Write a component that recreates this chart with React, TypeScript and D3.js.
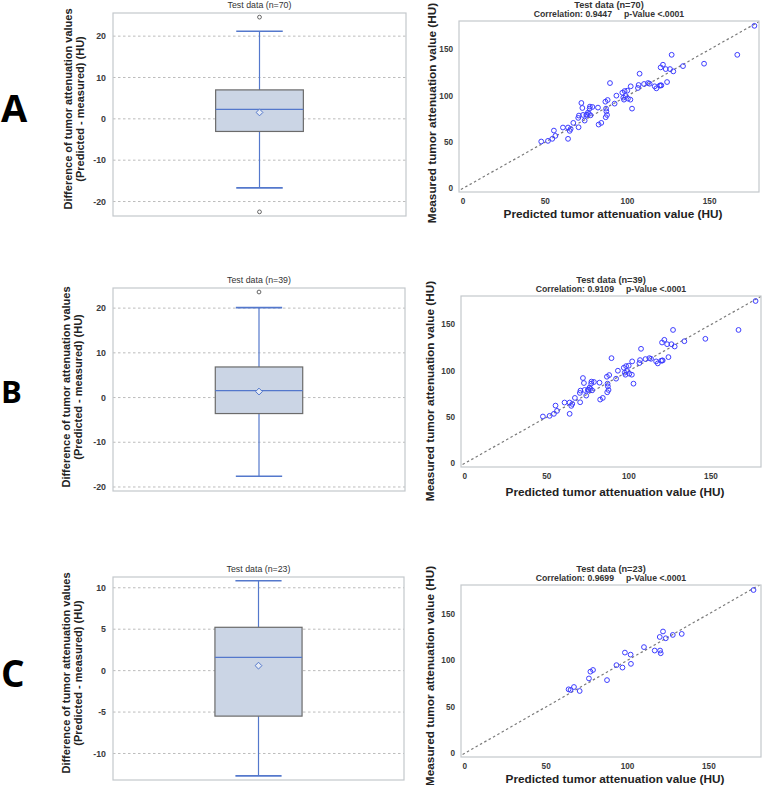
import React from "react";
import * as d3 from "d3";

const W = 763;
const H = 785;

// box summaries: [lower whisker, Q1, median, Q3, upper whisker]
const boxA = [-16.7, -3.05, 2.27, 7.0, 21.2];
const meanA = 1.55;
const outliersA = [24.6, -22.5];

const boxB = [-17.6, -3.58, 1.56, 6.84, 20.1];
const meanB = 1.34;
const outliersB = [23.6];

const boxC = [-12.7, -5.49, 1.61, 5.23, 10.84];
const meanC = 0.6;
const outliersC: number[] = [];

const diffTicksAB = [-20, -10, 0, 10, 20];
const diffTicksC = [-10, -5, 0, 5, 10];
const huTicks = [0, 50, 100, 150];

const nTest = [70, 39, 23];
const corrTest = ["0.9447", "0.9109", "0.9699"];
const panelLetters = ["A", "B", "C"];

// predicted vs measured attenuation (HU)
const predAB = [
  47.6, 51.7, 54.3, 55.3, 56.2, 60.8, 63.9, 63.9, 64.9, 65.5, 67.1, 70.3, 70.1, 70.5,
  72.0, 72.6, 73.0, 74.0, 75.0, 76.0, 76.6, 77.0, 77.2, 77.6, 78.7, 82.1, 82.5, 84.1,
  86.6, 86.8, 87.0, 87.2, 87.6, 88.0, 89.4, 92.2, 93.3, 96.9, 97.5, 97.9, 98.3, 98.9,
  99.9, 100.3, 101.8, 102.0, 102.8, 106.4, 106.8, 107.4, 110.1, 112.5, 113.5, 116.6,
  117.6, 119.6, 120.2, 120.6, 121.6, 123.3, 124.1, 125.9, 126.9, 127.9, 133.8, 146.6,
  166.8, 177.2, 75.4, 120.2,
];
const measAB = [
  50.6, 51.3, 53.5, 62.4, 56.7, 65.7, 65.7, 53.5, 62.1, 64.2, 70.7, 66.0, 76.1, 78.6,
  92.2, 86.8, 79.3, 73.2, 79.3, 81.8, 80.4, 86.1, 88.3, 78.9, 87.9, 87.2, 68.9, 70.7,
  93.6, 76.8, 86.1, 83.2, 79.3, 95.4, 113.7, 91.5, 100.1, 103.3, 98.0, 95.8, 105.1, 99.7,
  105.5, 96.9, 95.8, 110.2, 86.1, 108.4, 111.6, 123.8, 112.7, 113.7, 113.0, 110.2,
  108.0, 110.9, 130.6, 111.2, 133.5, 128.8, 114.8, 128.8, 144.2, 126.3, 132.0, 134.6,
  144.2, 175.5, 79.6, 111.2,
];
const predC = [
  63.8, 65.0, 67.1, 70.6, 76.3, 77.2, 78.8, 87.4, 93.2, 96.9, 98.4, 101.9, 102.1, 110.1,
  116.7, 119.8, 120.0, 120.4, 121.8, 123.5, 127.8, 133.3, 177.4,
];
const measC = [
  68.8, 68.1, 71.3, 67.0, 80.5, 87.8, 89.6, 78.7, 94.8, 92.2, 108.3, 106.1, 96.2, 114.2,
  110.5, 125.1, 110.5, 107.6, 131.0, 123.7, 127.3, 128.4, 175.6,
];

const FONT = "'Liberation Sans', Arial, sans-serif";
const BLUE = "#5478cc";
const FRAME = "#c4c8cc";

type BoxProps = {
  x0: number; x1: number; y0: number; y1: number;
  domain: [number, number];
  ticks: number[];
  stats: number[];
  mean: number;
  outliers: number[];
  n: number;
  labelX: number;
  labelY: number;
};

function BoxPanel(p: BoxProps) {
  const y = d3.scaleLinear().domain(p.domain).range([p.y1, p.y0]);
  const x = d3.scaleBand().domain(["test"]).range([p.x0, p.x1]).paddingOuter(1.17);
  const left = x("test") as number;
  const bw = x.bandwidth();
  const cx = left + bw / 2;
  const capW = bw * 0.53;
  const [lo, q1, med, q3, hi] = p.stats;
  const ym = y(p.mean);
  const d = 3.4;
  return (
    <g fontFamily={FONT}>
      <text x={(p.x0 + p.x1) / 2} y={p.y0 - 5} textAnchor="middle" fontSize={8.8} fill="#333">
        Test data (n={p.n})
      </text>
      {p.ticks.map((t) => (
        <g key={t}>
          <line x1={p.x0} x2={p.x1} y1={y(t)} y2={y(t)} stroke="#b4b4b4" strokeDasharray="2.5,2.5" strokeWidth={0.9} />
          <text x={p.x0 - 7} y={y(t)} dy="0.35em" textAnchor="end" fontSize={8.8} fontWeight="bold" fill="#3a3a3a">
            {t}
          </text>
        </g>
      ))}
      <line x1={cx} x2={cx} y1={y(hi)} y2={y(q3)} stroke={BLUE} strokeWidth={1.2} />
      <line x1={cx} x2={cx} y1={y(q1)} y2={y(lo)} stroke={BLUE} strokeWidth={1.2} />
      <line x1={cx - capW / 2} x2={cx + capW / 2} y1={y(hi)} y2={y(hi)} stroke={BLUE} strokeWidth={1.6} />
      <line x1={cx - capW / 2} x2={cx + capW / 2} y1={y(lo)} y2={y(lo)} stroke={BLUE} strokeWidth={1.6} />
      <rect x={left} y={y(q3)} width={bw} height={y(q1) - y(q3)} fill="#cbd5e5" stroke="#6b6b6b" strokeWidth={1.2} />
      <line x1={left} x2={left + bw} y1={y(med)} y2={y(med)} stroke={BLUE} strokeWidth={1.3} />
      <path
        d={`M${cx},${ym - d}L${cx + d},${ym}L${cx},${ym + d}L${cx - d},${ym}Z`}
        fill="#e4eaf4"
        stroke={BLUE}
        strokeWidth={1}
      />
      {p.outliers.map((o, i) => (
        <circle key={i} cx={cx} cy={y(o)} r={1.9} fill="none" stroke="#555" strokeWidth={0.9} />
      ))}
      <rect x={p.x0} y={p.y0} width={p.x1 - p.x0} height={p.y1 - p.y0} fill="none" stroke={FRAME} strokeWidth={1.2} />
      <text
        transform={`translate(${p.labelX},${p.labelY}) rotate(-90)`}
        textAnchor="middle"
        fontSize={11}
        fontWeight="bold"
        fill="#222"
      >
        <tspan x={0} dy={0}>Difference of tumor attenuation values</tspan>
        <tspan x={0} dy={12}>(Predicted - measured) (HU)</tspan>
      </text>
    </g>
  );
}

type ScatterProps = {
  x0: number; x1: number; y0: number; y1: number;
  xDomain: [number, number];
  yDomain: [number, number];
  pred: number[];
  meas: number[];
  n: number;
  corr: string;
  yLabelX: number;
  yLabelY: number;
  xLabelY: number;
  clipId: string;
};

function ScatterPanel(p: ScatterProps) {
  const x = d3.scaleLinear().domain(p.xDomain).range([p.x0, p.x1]);
  const y = d3.scaleLinear().domain(p.yDomain).range([p.y1, p.y0]);
  const lo = Math.min(p.xDomain[0], p.yDomain[0]);
  const hi = Math.max(p.xDomain[1], p.yDomain[1]);
  const diag = d3.line<number>().x((v) => x(v)).y((v) => y(v))([lo, hi]) as string;
  const cx = (p.x0 + p.x1) / 2;
  return (
    <g fontFamily={FONT}>
      <defs>
        <clipPath id={p.clipId}>
          <rect x={p.x0} y={p.y0} width={p.x1 - p.x0} height={p.y1 - p.y0} />
        </clipPath>
      </defs>
      <text x={cx} y={p.y0 - 13} textAnchor="middle" fontSize={9.2} fontWeight={600} fill="#333">
        Test data (n={p.n})
      </text>
      <text x={cx} y={p.y0 - 4} textAnchor="middle" fontSize={8.7} fontWeight={600} fill="#333" xmlSpace="preserve">
        {`Correlation: ${p.corr}     p-Value <.0001`}
      </text>
      <path d={diag} stroke="#7a7a7a" strokeWidth={1.2} strokeDasharray="2.5,2.5" fill="none" clipPath={`url(#${p.clipId})`} />
      {p.pred.map((v, i) => (
        <circle key={i} cx={x(v)} cy={y(p.meas[i])} r={2.4} fill="none" stroke="#3d3dff" strokeWidth={1} />
      ))}
      <rect x={p.x0} y={p.y0} width={p.x1 - p.x0} height={p.y1 - p.y0} fill="none" stroke={FRAME} strokeWidth={1.2} />
      {huTicks.map((t) => (
        <g key={t}>
          <text x={x(t)} y={p.y1 + 12} textAnchor="middle" fontSize={8.2} fontWeight="bold" fill="#3a3a3a">
            {t}
          </text>
          <text x={p.x0 - 6} y={y(t)} dy="0.35em" textAnchor="end" fontSize={8.2} fontWeight="bold" fill="#3a3a3a">
            {t}
          </text>
        </g>
      ))}
      <text x={cx + 4} y={p.xLabelY} textAnchor="middle" fontSize={11.8} fontWeight="bold" fill="#222">
        Predicted tumor attenuation value (HU)
      </text>
      <text
        transform={`translate(${p.yLabelX},${p.yLabelY}) rotate(-90)`}
        textAnchor="middle"
        dy="0.35em"
        fontSize={11.8}
        fontWeight="bold"
        fill="#222"
      >
        Measured tumor attenuation value (HU)
      </text>
    </g>
  );
}

export default function App() {
  const boxes = [
    { x0: 113, x1: 406, y0: 13, y1: 216, domain: [-23.5, 25.6] as [number, number], ticks: diffTicksAB, stats: boxA, mean: meanA, outliers: outliersA, labelX: 72, labelY: 109 },
    { x0: 113, x1: 405, y0: 288, y1: 491, domain: [-20.9, 24.5] as [number, number], ticks: diffTicksAB, stats: boxB, mean: meanB, outliers: outliersB, labelX: 70, labelY: 387 },
    { x0: 113, x1: 404, y0: 577, y1: 780, domain: [-13.2, 11.3] as [number, number], ticks: diffTicksC, stats: boxC, mean: meanC, outliers: outliersC, labelX: 70, labelY: 673 },
  ];
  const scatters = [
    { x0: 459, x1: 759, y0: 21, y1: 192, xDomain: [-2.4, 180] as [number, number], yDomain: [-3.9, 180.7] as [number, number], pred: predAB, meas: measAB, yLabelX: 432, yLabelY: 113, xLabelY: 218 },
    { x0: 461, x1: 761, y0: 296, y1: 467, xDomain: [-2.3, 180.5] as [number, number], yDomain: [-4.0, 180.9] as [number, number], pred: predAB, meas: measAB, yLabelX: 430, yLabelY: 391, xLabelY: 496 },
    { x0: 461, x1: 761, y0: 585, y1: 757, xDomain: [-2.3, 182] as [number, number], yDomain: [-4.0, 181] as [number, number], pred: predC, meas: measC, yLabelX: 430, yLabelY: 676, xLabelY: 783 },
  ];
  const letterY = [122, 403, 687];
  const letterSize = [38, 31, 37];
  return (
    <svg width={W} height={H} style={{ position: "absolute", left: 0, top: 0, background: "#fff" }}>
      {boxes.map((b, i) => (
        <BoxPanel key={i} {...b} n={nTest[i]} />
      ))}
      {scatters.map((s, i) => (
        <ScatterPanel key={i} {...s} n={nTest[i]} corr={corrTest[i]} clipId={`clip${i}`} />
      ))}
      {panelLetters.map((l, i) => (
        <text key={l} x={1} y={letterY[i]} fontSize={letterSize[i]} fontWeight="bold" fontFamily="'Open Sans', sans-serif" fill="#000">
          {l}
        </text>
      ))}
    </svg>
  );
}
